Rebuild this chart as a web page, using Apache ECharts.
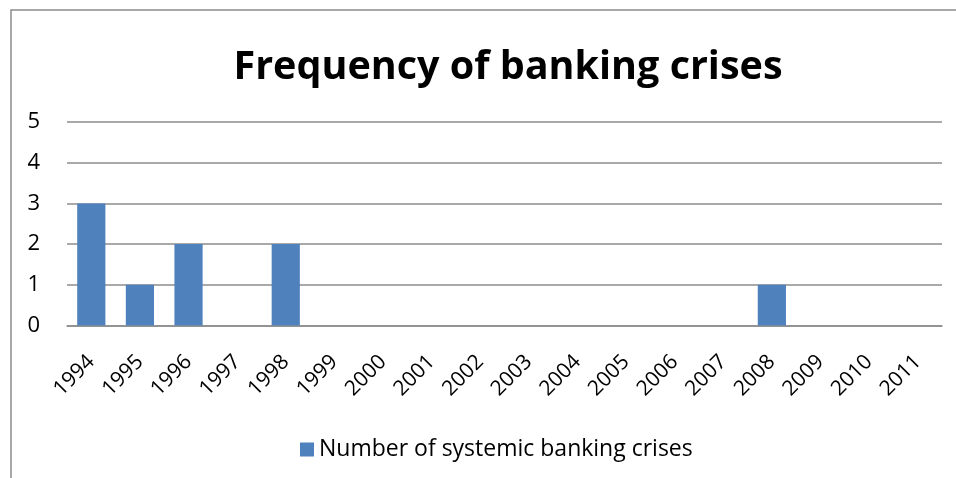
<!DOCTYPE html>
<html>
<head>
<meta charset="utf-8">
<script src="https://cdn.jsdelivr.net/npm/echarts@6/dist/echarts.min.js"></script>
<style>
  html, body { margin: 0; padding: 0; background: #fff; }
  #box { width: 956px; height: 478px; }
</style>
</head>
<body>
<div id="box"></div>
<script>
// 数据
var years = ['1994', '1995', '1996', '1997', '1998', '1999', '2000', '2001', '2002',
    '2003', '2004', '2005', '2006', '2007', '2008', '2009', '2010', '2011']
var crises = [3, 1, 2, 0, 2, 0, 0, 0, 0, 0, 0, 0, 0, 0, 1, 0, 0, 0]
var yTicks = [0, 1, 2, 3, 4, 5]

var MyEcharts = echarts.init(document.getElementById('box'))

var option = {
    animation: false,
    title: {
        text: 'Frequency of banking crises',
        left: 503,
        textAlign: 'center',
        top: 43,
        textStyle: {
            fontFamily: 'Open Sans',
            fontWeight: 'bold',
            fontSize: 39.5,
            color: '#000'
        }
    },
    graphic: [{
        type: 'rect',
        shape: { x: 11, y: 10, width: 1000, height: 1000 },
        style: { fill: 'none', stroke: '#8c8c8c', lineWidth: 1.5 },
        silent: true
    }],
    legend: {
        bottom: 12,
        left: 295,
        itemWidth: 14,
        itemHeight: 14,
        itemGap: 6,
        icon: 'rect',
        textStyle: { fontFamily: 'Open Sans', fontSize: 23, color: '#000' },
        data: ['Number of systemic banking crises']
    },
    grid: {
        left: 67,
        right: 14,
        top: 122,
        bottom: 152.5,
        containLabel: false
    },
    xAxis: {
        type: 'category',
        data: years,
        axisLine: { lineStyle: { color: '#8c8c8c', width: 1.5 } },
        axisTick: { show: false },
        axisLabel: {
            rotate: 45,
            margin: 33,
            interval: 0,
            fontFamily: 'Open Sans',
            fontSize: 21,
            color: '#000'
        }
    },
    yAxis: {
        type: 'value',
        min: yTicks[0],
        max: yTicks[yTicks.length - 1],
        interval: 1,
        axisLine: { show: false },
        axisTick: { show: false },
        splitLine: { lineStyle: { color: '#8c8c8c', width: 1.5 } },
        axisLabel: {
            margin: 27,
            fontFamily: 'Open Sans',
            fontSize: 22,
            color: '#000'
        }
    },
    series: [{
        name: 'Number of systemic banking crises',
        type: 'bar',
        data: crises,
        barCategoryGap: '42%',
        itemStyle: { color: '#4f81bd' }
    }]
}

MyEcharts.setOption(option)
</script>
</body>
</html>
